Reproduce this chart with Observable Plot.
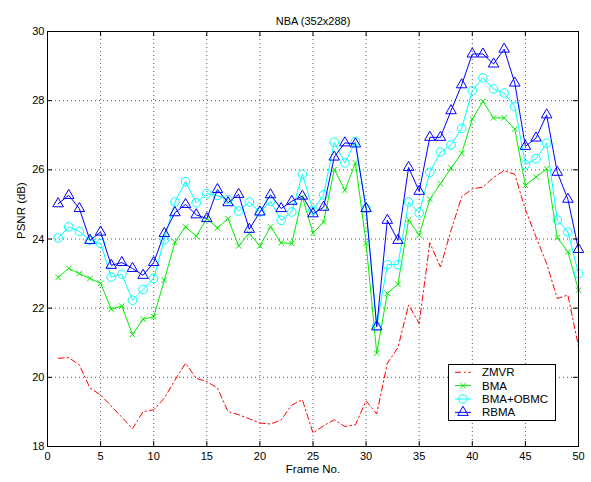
<!DOCTYPE html>
<html>
<head>
<meta charset="utf-8">
<script src="https://cdn.jsdelivr.net/npm/d3@7"></script>
<script src="https://cdn.jsdelivr.net/npm/@observablehq/plot@0.6"></script>
<style>
  html, body { margin: 0; padding: 0; background: #fff; }
</style>
</head>
<body>
<div id="chart"></div>
<script>
// ---- data ----
const frames = d3.range(1, 51);
const zmvr = [20.55, 20.57, 20.36, 19.69, 19.49, 19.17, 18.85, 18.51, 19.01, 19.06,
  19.40, 19.92, 20.41, 19.97, 19.88, 19.69, 19.01, 18.92, 18.80, 18.68,
  18.65, 18.77, 19.20, 19.35, 18.39, 18.60, 18.77, 18.58, 18.63, 19.32,
  18.94, 20.41, 20.86, 22.09, 21.56, 23.89, 23.19, 24.25, 25.22, 25.45,
  25.50, 25.78, 25.98, 25.87, 24.85, 24.06, 23.29, 22.28, 22.38, 20.89];
const bma = [22.89, 23.15, 23.00, 22.86, 22.72, 21.97, 22.06, 21.24, 21.68, 21.75,
  22.81, 23.91, 24.35, 24.08, 24.59, 24.32, 24.59, 23.80, 24.16, 23.80,
  24.35, 23.89, 23.87, 25.21, 24.17, 24.49, 26.01, 25.41, 26.20, 23.87,
  20.70, 22.43, 22.69, 24.56, 24.11, 25.15, 25.60, 26.05, 26.48, 27.47,
  27.98, 27.50, 27.50, 27.18, 25.55, 25.79, 26.03, 24.04, 23.63, 22.52];
const bmaObmc = [24.03, 24.35, 24.22, 23.96, 23.87, 22.90, 22.98, 22.23, 22.54, 22.86,
  23.98, 25.07, 25.66, 25.05, 25.31, 25.26, 25.14, 24.81, 25.07, 24.78,
  25.09, 24.54, 24.78, 25.87, 24.83, 25.28, 26.80, 26.20, 26.82, 24.88,
  21.48, 23.26, 23.26, 25.07, 24.75, 25.93, 26.51, 26.72, 27.20, 28.29,
  28.66, 28.34, 28.22, 27.83, 26.15, 26.32, 26.77, 24.55, 24.20, 23.00];
const rbma = [25.02, 25.26, 24.88, 23.96, 24.20, 23.24, 23.32, 23.15, 22.95, 23.32,
  24.16, 24.76, 25.00, 24.70, 24.59, 25.43, 25.05, 25.29, 24.28, 24.78,
  25.28, 24.88, 25.09, 25.24, 24.73, 24.92, 26.37, 26.78, 26.75, 24.88,
  21.46, 24.54, 23.96, 26.07, 25.38, 26.94, 26.94, 27.71, 28.46, 29.35,
  29.35, 29.06, 29.49, 28.51, 26.68, 26.92, 27.59, 25.93, 25.15, 23.70];
const seriesNames = ["ZMVR", "BMA", "BMA+OBMC", "RBMA"];
const seriesValues = [zmvr, bma, bmaObmc, rbma];
const xTicks = [0, 5, 10, 15, 20, 25, 30, 35, 40, 45, 50];
const yTicks = [18, 20, 22, 24, 26, 28, 30];
const titleText = "NBA (352x288)";
const xLabel = "Frame No.";
const yLabel = "PSNR (dB)";

// ---- styles ----
const colors = ["#ff0000", "#00ee00", "#00ffff", "#0000ff"];
const dashes = ["6,3,1.5,3", null, null, null];
const symbols = [null, "times", "circle", "triangle"];
const symR = [0, 2.6, 4.3, 3.9];

const W = 591, H = 482, mL = 47, mR = 13, mT = 31, mB = 36;
const fw = W - mL - mR, fh = H - mT - mB;
const font = "'Liberation Sans', Arial, Helvetica, sans-serif";

const marks = [
  Plot.gridX(xTicks.slice(1, -1), {stroke: "#444", strokeOpacity: 0.9, strokeDasharray: "1,3"}),
  Plot.gridY(yTicks.slice(1, -1), {stroke: "#444", strokeOpacity: 0.9, strokeDasharray: "1,3"})
];
seriesNames.forEach((name, i) => {
  const rows = frames.map((f, j) => ({frame: f, psnr: seriesValues[i][j], series: name}));
  marks.push(Plot.line(rows, {x: "frame", y: "psnr", stroke: colors[i], strokeWidth: 1,
    strokeDasharray: dashes[i] || undefined}));
  if (symbols[i]) {
    marks.push(Plot.dot(rows, {x: "frame", y: "psnr", symbol: () => symbols[i], r: symR[i],
      stroke: colors[i], fill: "none", strokeWidth: 1}));
  }
});
marks.push(
  Plot.frame({stroke: "#000", strokeWidth: 1}),
  Plot.ruleX(xTicks, {x: d => d, insetTop: fh - 5, stroke: "#000"}),
  Plot.ruleX(xTicks, {x: d => d, insetBottom: fh - 5, stroke: "#000"}),
  Plot.ruleY(yTicks, {y: d => d, insetRight: fw - 5, stroke: "#000"}),
  Plot.ruleY(yTicks, {y: d => d, insetLeft: fw - 5, stroke: "#000"}),
  Plot.axisX({ticks: xTicks, tickSize: 0, tickPadding: 6, label: null, fontSize: 11}),
  Plot.axisY({ticks: yTicks, tickSize: 0, tickPadding: 3, label: null, fontSize: 11}),
  Plot.text([titleText], {frameAnchor: "top", dy: -14, fontSize: 11, fill: "#000"}),
  Plot.text([xLabel], {frameAnchor: "bottom", dy: 26, fontSize: 11.5, fill: "#000"}),
  Plot.text([yLabel], {frameAnchor: "left", dx: -26, rotate: -90, fontSize: 11.5, fill: "#000"})
);

const svg = Plot.plot({
  width: W, height: H,
  marginLeft: mL, marginRight: mR, marginTop: mT, marginBottom: mB,
  x: {domain: [0, 50]},
  y: {domain: [18, 30]},
  style: {fontFamily: font, fontSize: "11px", background: "#fff", color: "#000"},
  marks
});

// ---- legend ----
const lg = d3.select(svg).append("g").attr("font-family", font).attr("font-size", 11.5)
  .attr("text-anchor", "start");
lg.append("rect").attr("x", 448.5).attr("y", 364.5).attr("width", 107).attr("height", 56)
  .attr("fill", "#fff").attr("stroke", "#000");
seriesNames.forEach((name, i) => {
  const y = 372.3 + i * 13.35;
  lg.append("line").attr("x1", 455).attr("x2", 471).attr("y1", y).attr("y2", y)
    .attr("stroke", colors[i]).attr("stroke-dasharray", dashes[i] || null);
  if (symbols[i]) {
    const sym = {times: d3.symbolTimes, circle: d3.symbolCircle, triangle: d3.symbolTriangle}[symbols[i]];
    lg.append("path").attr("transform", `translate(463,${y})`)
      .attr("d", d3.symbol(sym, Math.PI * symR[i] * symR[i])())
      .attr("fill", "none").attr("stroke", colors[i]);
  }
  lg.append("text").attr("x", 482).attr("y", y).attr("dy", "0.35em")
    .attr("text-anchor", "start").attr("fill", "#000").text(name);
});

document.getElementById("chart").appendChild(svg);
</script>
</body>
</html>
